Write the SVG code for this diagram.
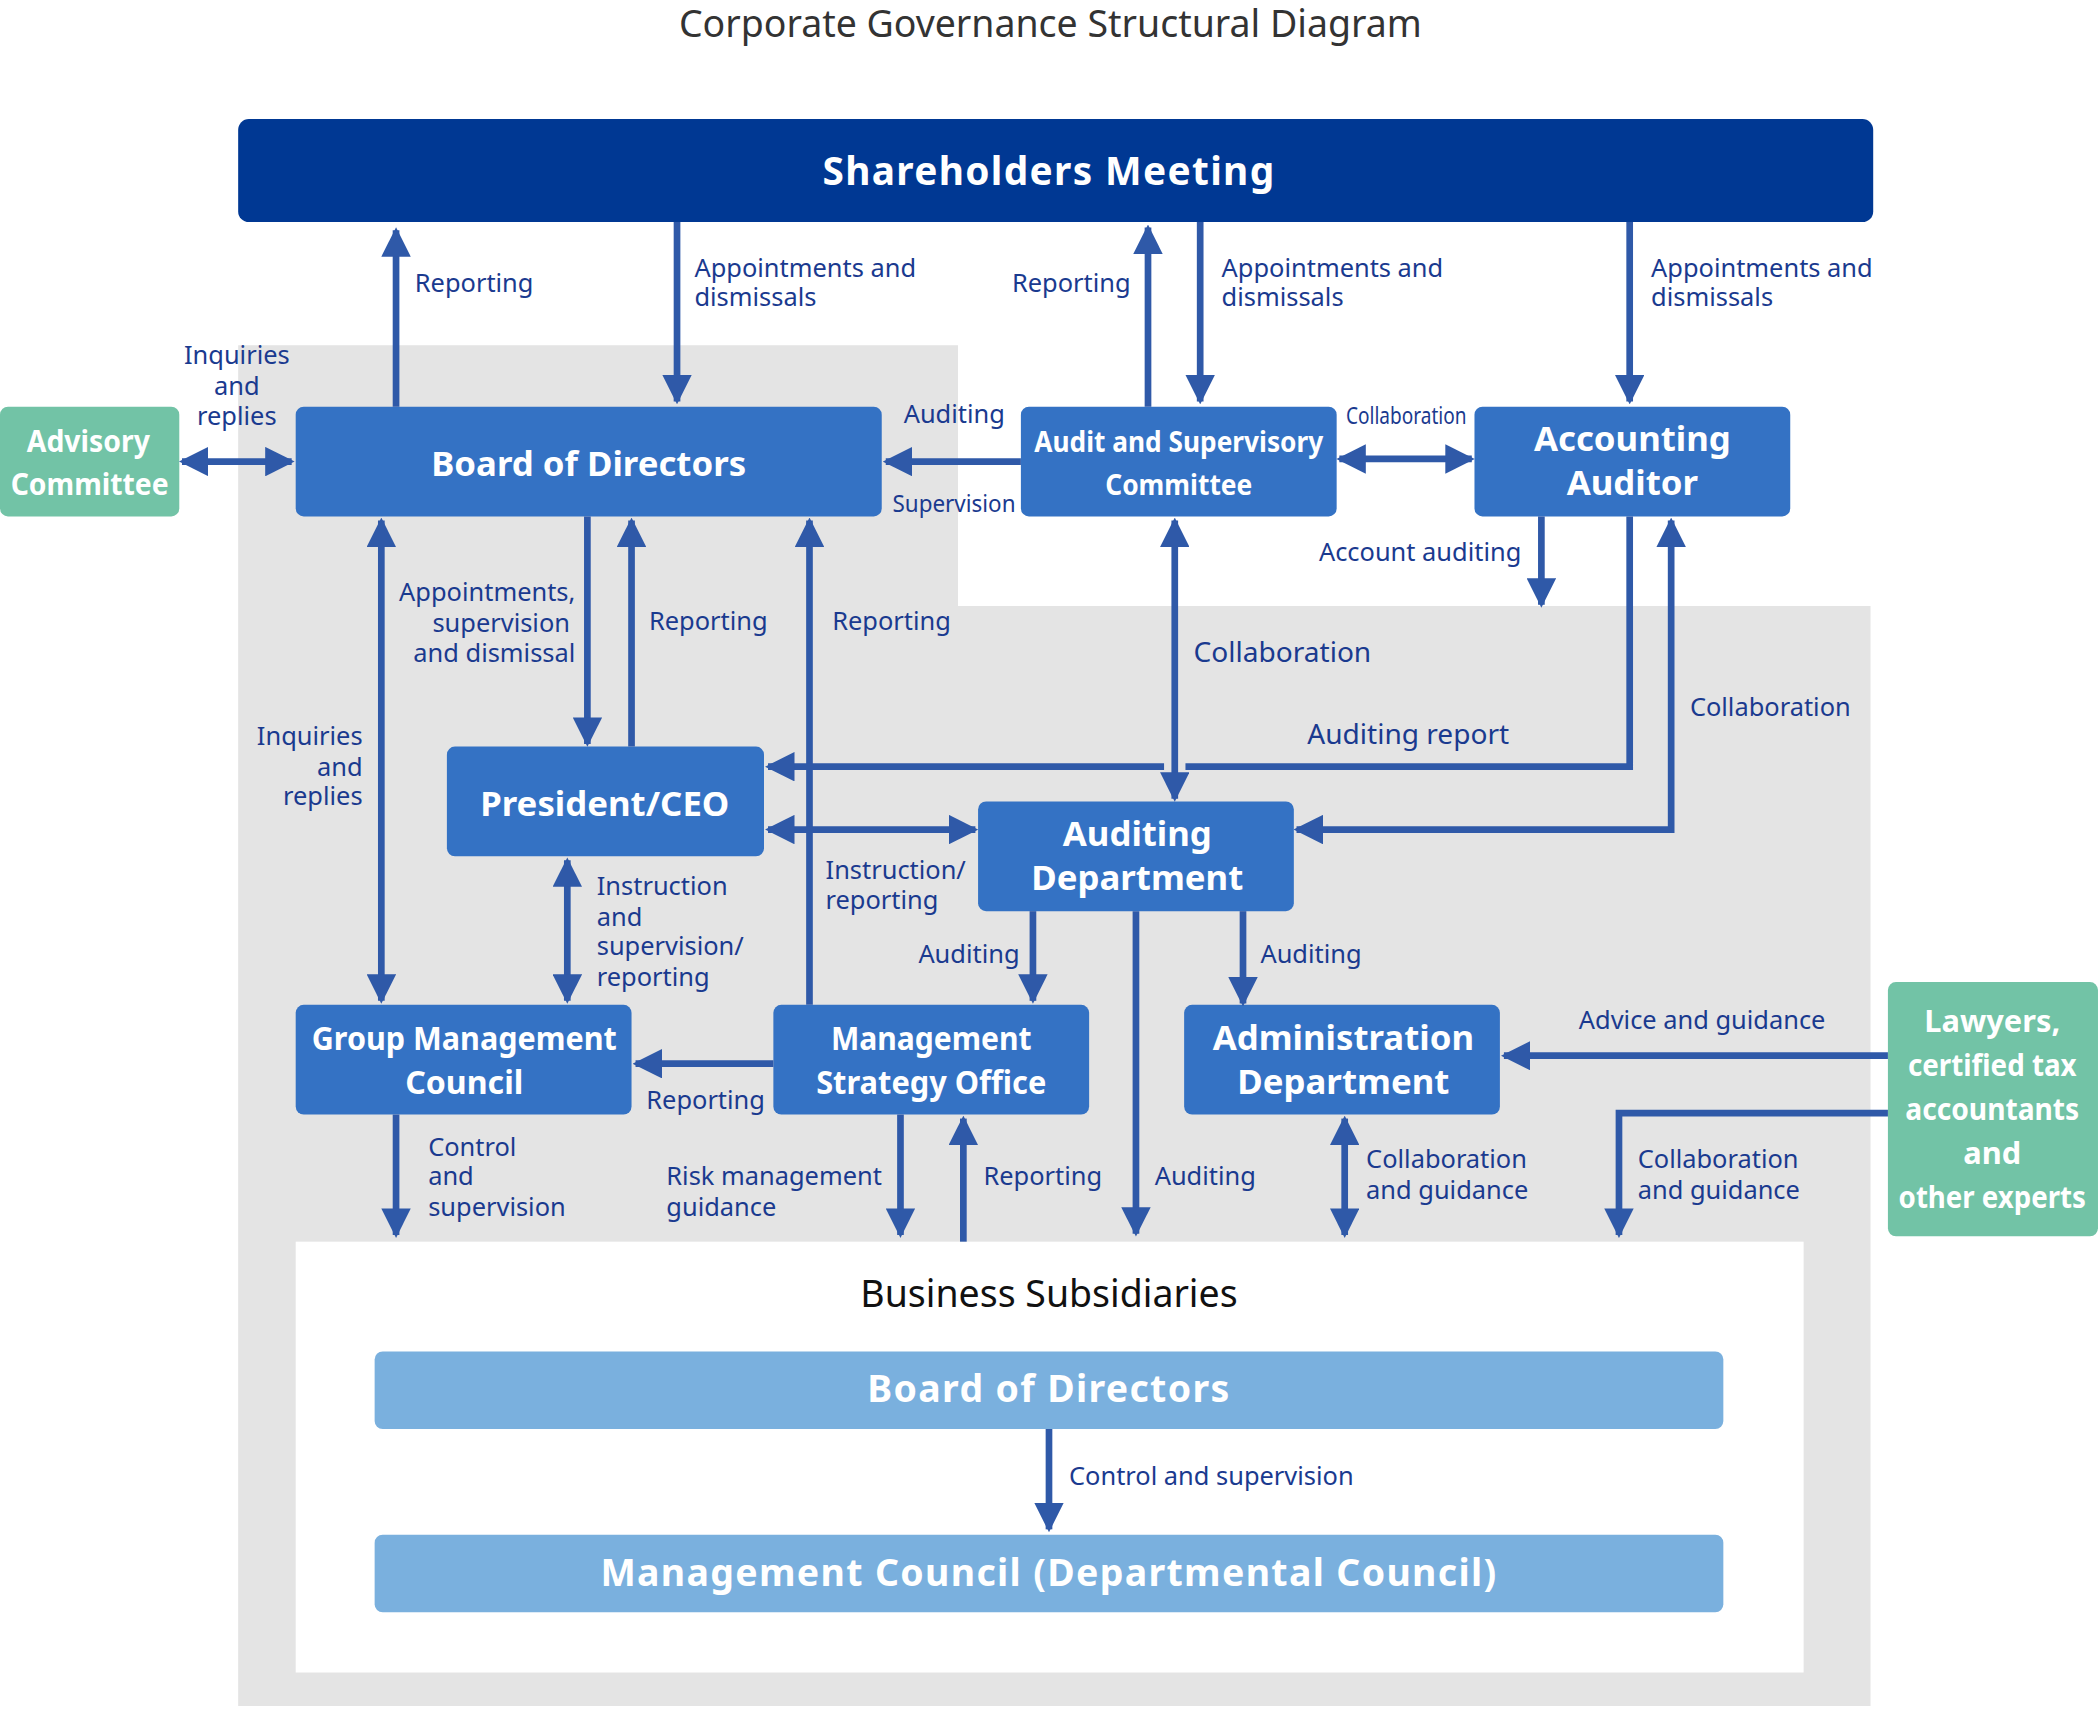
<svg xmlns="http://www.w3.org/2000/svg" width="2098" height="1710" viewBox="0 0 2098 1710">
<defs>
<marker id="ah" viewBox="0 0 10 10" refX="9" refY="5" markerWidth="4.4" markerHeight="4.4" orient="auto-start-reverse"><path d="M0,0 L10,5 L0,10 z" fill="#2f59a8"/></marker>
<style>
.c{fill:none;stroke:#2f59a8;stroke-width:5}
.n{fill:#3472c4}
.g{fill:#72c3a6}
.s{fill:#7ab0de}
.t{font-family:"Noto Sans","DejaVu Sans",sans-serif;font-weight:bold;fill:#fff;text-anchor:middle}
.l{font-family:"Noto Sans","DejaVu Sans",sans-serif;font-size:19px;fill:#1a3a8f}
.m{text-anchor:middle}
.e{text-anchor:end}
</style>
</defs>
<rect width="2098" height="1710" fill="#fff"/>
<g transform="scale(1.338)">
<text x="785" y="28" font-family="Noto Sans, sans-serif" font-size="28" fill="#333" text-anchor="middle">Corporate Governance Structural Diagram</text>
<polygon points="178,258 716,258 716,453 1398,453 1398,1275 178,1275" fill="#e4e4e4"/>
<rect x="221" y="928" width="1127" height="322" fill="#fff"/>
<text x="784" y="977" font-family="Noto Sans, sans-serif" font-size="28" fill="#111" text-anchor="middle">Business Subsidiaries</text>

<g id="shareholders"><rect x="178" y="89" width="1222" height="77" rx="8" fill="#003893"/><text class="t" x="784" y="138" font-size="29" letter-spacing="1">Shareholders Meeting</text></g>
<g id="board"><rect class="n" x="221" y="304" width="438" height="82" rx="6"/><text class="t" x="440" y="356" font-size="26">Board of Directors</text></g>
<g id="asc"><rect class="n" x="763" y="304" width="236" height="82" rx="6"/><text class="t" x="881" y="338" font-size="22" textLength="216" lengthAdjust="spacingAndGlyphs">Audit and Supervisory</text><text class="t" x="881" y="370" font-size="22" textLength="110" lengthAdjust="spacingAndGlyphs">Committee</text></g>
<g id="accaud"><rect class="n" x="1102" y="304" width="236" height="82" rx="6"/><text class="t" x="1220" y="337" font-size="26">Accounting</text><text class="t" x="1220" y="370" font-size="26">Auditor</text></g>
<g id="advisory"><rect class="g" x="0" y="304" width="134" height="82" rx="6"/><text class="t" x="66" y="338" font-size="23" textLength="92" lengthAdjust="spacingAndGlyphs">Advisory</text><text class="t" x="67" y="370" font-size="23" textLength="118" lengthAdjust="spacingAndGlyphs">Committee</text></g>
<g id="ceo"><rect class="n" x="334" y="558" width="237" height="82" rx="6"/><text class="t" x="452" y="610" font-size="26">President/CEO</text></g>
<g id="auddept"><rect class="n" x="731" y="599" width="236" height="82" rx="6"/><text class="t" x="850" y="632" font-size="26">Auditing</text><text class="t" x="850" y="665" font-size="26">Department</text></g>
<g id="gmc"><rect class="n" x="221" y="751" width="251" height="82" rx="6"/><text class="t" x="347" y="785" font-size="24" textLength="228" lengthAdjust="spacingAndGlyphs">Group Management</text><text class="t" x="347" y="818" font-size="24">Council</text></g>
<g id="mso"><rect class="n" x="578" y="751" width="236" height="82" rx="6"/><text class="t" x="696" y="785" font-size="24" textLength="150" lengthAdjust="spacingAndGlyphs">Management</text><text class="t" x="696" y="818" font-size="24" textLength="172" lengthAdjust="spacingAndGlyphs">Strategy Office</text></g>
<g id="admin"><rect class="n" x="885" y="751" width="236" height="82" rx="6"/><text class="t" x="1004" y="785" font-size="26">Administration</text><text class="t" x="1004" y="818" font-size="26">Department</text></g>
<g id="lawyers"><rect class="g" x="1411" y="734" width="157" height="190" rx="6"/><text class="t" font-size="23"><tspan x="1489" y="771">Lawyers,</tspan></text><text class="t" x="1489" y="804" font-size="23" textLength="126" lengthAdjust="spacingAndGlyphs">certified tax</text><text class="t" x="1489" y="837" font-size="23" textLength="130" lengthAdjust="spacingAndGlyphs">accountants</text><text class="t" x="1489" y="870" font-size="23">and</text><text class="t" x="1489" y="903" font-size="23" textLength="140" lengthAdjust="spacingAndGlyphs">other experts</text></g>
<g id="subboard"><rect class="s" x="280" y="1010" width="1008" height="58" rx="6"/><text class="t" x="784" y="1048" font-size="28" letter-spacing="1">Board of Directors</text></g>
<g id="subcouncil"><rect class="s" x="280" y="1147" width="1008" height="58" rx="6"/><text class="t" x="784" y="1185" font-size="28" letter-spacing="1">Management Council (Departmental Council)</text></g>

<g id="connectors">
<path class="c" d="M296,304 V172" marker-end="url(#ah)"/>
<path class="c" d="M506,166 V300" marker-end="url(#ah)"/>
<path class="c" d="M858,304 V170" marker-end="url(#ah)"/>
<path class="c" d="M897,166 V300" marker-end="url(#ah)"/>
<path class="c" d="M1218,166 V300" marker-end="url(#ah)"/>
<path class="c" d="M136,345 H218" marker-start="url(#ah)" marker-end="url(#ah)"/>
<path class="c" d="M763,345 H662" marker-end="url(#ah)"/>
<path class="c" d="M1001,343 H1100" marker-start="url(#ah)" marker-end="url(#ah)"/>
<path class="c" d="M1152,386 V452" marker-end="url(#ah)"/>
<path class="c" d="M439,386 V556" marker-end="url(#ah)"/>
<path class="c" d="M472,558 V389" marker-end="url(#ah)"/>
<path class="c" d="M605,751 V389" marker-end="url(#ah)"/>
<path class="c" d="M285,389 V748" marker-start="url(#ah)" marker-end="url(#ah)"/>
<path class="c" d="M878,389 V597" marker-start="url(#ah)" marker-end="url(#ah)"/>
<path class="c" d="M1218,386 V573 H886"/>
<path class="c" d="M870,573 H574" marker-end="url(#ah)"/>
<path class="c" d="M969,620 H1249 V389" marker-start="url(#ah)" marker-end="url(#ah)"/>
<path class="c" d="M574,620 H729" marker-start="url(#ah)" marker-end="url(#ah)"/>
<path class="c" d="M424,643 V748" marker-start="url(#ah)" marker-end="url(#ah)"/>
<path class="c" d="M772,681 V748" marker-end="url(#ah)"/>
<path class="c" d="M929,681 V750" marker-end="url(#ah)"/>
<path class="c" d="M849,681 V922" marker-end="url(#ah)"/>
<path class="c" d="M578,795 H475" marker-end="url(#ah)"/>
<path class="c" d="M296,833 V923" marker-end="url(#ah)"/>
<path class="c" d="M673,833 V923" marker-end="url(#ah)"/>
<path class="c" d="M720,928 V836" marker-end="url(#ah)"/>
<path class="c" d="M1005,836 V923" marker-start="url(#ah)" marker-end="url(#ah)"/>
<path class="c" d="M1411,789 H1124" marker-end="url(#ah)"/>
<path class="c" d="M1411,832 H1210 V923" marker-end="url(#ah)"/>
<path class="c" d="M784,1068 V1143" marker-end="url(#ah)"/>
</g>

<g id="labels" class="l">
<text x="310" y="218">Reporting</text>
<text x="519" y="207">Appointments and</text><text x="519" y="229">dismissals</text>
<text x="845" y="218" class="e">Reporting</text>
<text x="913" y="207">Appointments and</text><text x="913" y="229">dismissals</text>
<text x="1234" y="207">Appointments and</text><text x="1234" y="229">dismissals</text>
<text class="m" x="177" y="272">Inquiries</text><text class="m" x="177" y="295">and</text><text class="m" x="177" y="318">replies</text>
<text x="751" y="316" class="e">Auditing</text>
<text x="759" y="383" class="e" font-size="18" textLength="92" lengthAdjust="spacingAndGlyphs">Supervision</text>
<text x="1051" y="317" class="m" font-size="17" textLength="90" lengthAdjust="spacingAndGlyphs">Collaboration</text>
<text x="1137" y="419" class="e">Account auditing</text>
<text x="430" y="449" class="e">Appointments,</text><text x="426" y="472" class="e">supervision</text><text x="430" y="495" class="e">and dismissal</text>
<text x="485" y="471">Reporting</text>
<text x="622" y="471">Reporting</text>
<text x="892" y="495" font-size="21">Collaboration</text>
<text x="1263" y="535">Collaboration</text>
<text x="977" y="556" font-size="21">Auditing report</text>
<text x="271" y="557" class="e">Inquiries</text><text x="271" y="580" class="e">and</text><text x="271" y="602" class="e">replies</text>
<text x="446" y="669">Instruction</text><text x="446" y="692">and</text><text x="446" y="714">supervision/</text><text x="446" y="737">reporting</text>
<text x="617" y="657">Instruction/</text><text x="617" y="679">reporting</text>
<text x="762" y="720" class="e">Auditing</text>
<text x="942" y="720">Auditing</text>
<text x="1180" y="769">Advice and guidance</text>
<text x="483" y="829">Reporting</text>
<text x="320" y="864">Control</text><text x="320" y="886">and</text><text x="320" y="909">supervision</text>
<text x="498" y="886">Risk management</text><text x="498" y="909">guidance</text>
<text x="735" y="886">Reporting</text>
<text x="863" y="886">Auditing</text>
<text x="1021" y="873">Collaboration</text><text x="1021" y="896">and guidance</text>
<text x="1224" y="873">Collaboration</text><text x="1224" y="896">and guidance</text>
<text x="799" y="1110">Control and supervision</text>
</g>
</g>
</svg>
